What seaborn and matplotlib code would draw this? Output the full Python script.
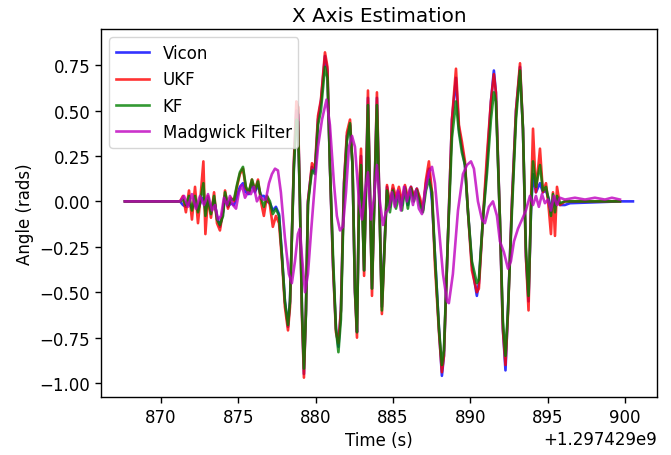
import numpy as np
import pandas as pd
import matplotlib
matplotlib.use("Agg")
import matplotlib.pyplot as plt
import seaborn as sns

OFFSET = 1.297429e9

# time (s, relative to OFFSET) for Vicon / UKF / KF
t_main = [867.68, 870.91, 871.24, 871.43, 871.62, 871.82, 872.01, 872.21, 872.40, 872.59,
          872.75, 872.88, 873.05, 873.24, 873.44, 873.63, 873.82, 874.02, 874.15, 874.34,
          874.53, 874.73, 874.92, 875.11, 875.31, 875.50, 875.69, 875.89, 876.08, 876.28,
          876.47, 876.66, 876.86, 877.05, 877.24, 877.44, 877.64, 877.83, 878.02, 878.22,
          878.35, 878.47, 878.60, 878.76, 878.86, 878.99, 879.12, 879.25, 879.38, 879.51,
          879.64, 879.77, 879.96, 880.16, 880.35, 880.61, 880.77, 880.93, 881.13, 881.32,
          881.48, 881.64, 881.84, 882.03, 882.23, 882.39, 882.55, 882.68, 882.81, 882.94,
          883.14, 883.39, 883.65, 883.97, 884.29, 884.62, 884.81, 885.00, 885.20, 885.39,
          885.59, 885.78, 885.97, 886.17, 886.36, 886.55, 886.75, 886.94, 887.14, 887.33,
          887.53, 887.72, 887.98, 888.17, 888.30, 888.56, 888.82, 889.08, 889.27, 889.46,
          889.66, 889.85, 890.11, 890.43, 890.56, 890.82, 891.08, 891.34, 891.53, 891.66,
          891.92, 892.11, 892.28, 892.44, 892.70, 892.96, 893.22, 893.41, 893.60, 893.77,
          893.93, 894.06, 894.25, 894.51, 894.70, 894.90, 895.09, 895.22, 895.35, 895.48,
          895.61, 895.80, 896.12, 896.45, 899.68]

vicon = [0.0, 0.0, 0.0, -0.02, -0.03, -0.01, -0.04, -0.01, -0.05, 0.0,
         0.02, -0.05, 0.0, -0.05, 0.01, -0.08, -0.14, -0.06, 0.03, -0.03,
         -0.01, -0.02, 0.03, 0.08, 0.10, 0.05, 0.04, 0.10, 0.05, 0.09,
         0.03, 0.03, 0.0, -0.01, -0.05, -0.03, -0.07, -0.30, -0.55, -0.69,
         -0.55, -0.20, 0.20, 0.50, 0.48, 0.0, -0.60, -0.95, -0.60, 0.0,
         0.10, 0.19, 0.16, 0.45, 0.55, 0.80, 0.72, 0.20, -0.35, -0.70,
         -0.80, -0.60, 0.10, 0.36, 0.42, 0.20, -0.50, -0.72, 0.0, 0.25,
         -0.38, 0.57, -0.48, 0.57, -0.58, 0.08, -0.03, 0.07, 0.0, 0.05,
         -0.02, 0.08, -0.02, 0.08, 0.02, 0.07, 0.0, -0.05, 0.10, 0.18,
         0.0, -0.30, -0.70, -0.96, -0.85, -0.20, 0.45, 0.68, 0.40, 0.30,
         0.20, -0.05, -0.35, -0.52, -0.45, -0.10, 0.20, 0.55, 0.72, 0.60,
         -0.10, -0.70, -0.93, -0.60, 0.0, 0.50, 0.74, 0.40, -0.30, -0.55,
         -0.05, 0.15, 0.05, 0.10, 0.05, 0.06, 0.01, -0.06, 0.0, -0.02,
         0.01, -0.02, -0.02, -0.01, 0.0]

ukf = [0.0, 0.0, 0.0, 0.03, -0.06, 0.06, -0.10, 0.08, -0.12, 0.05,
       0.22, -0.18, 0.03, -0.09, 0.05, -0.12, -0.16, -0.05, 0.06, -0.04,
       0.02, 0.0, 0.08, 0.15, 0.18, 0.07, 0.05, 0.12, 0.06, 0.12,
       0.0, -0.08, 0.03, -0.02, -0.14, -0.08, -0.12, -0.32, -0.58, -0.71,
       -0.58, -0.20, 0.22, 0.55, 0.52, 0.0, -0.62, -0.97, -0.60, 0.0,
       0.10, 0.21, 0.18, 0.47, 0.56, 0.82, 0.74, 0.20, -0.35, -0.72,
       -0.78, -0.60, 0.10, 0.38, 0.45, 0.20, -0.50, -0.75, 0.05, 0.29,
       -0.41, 0.61, -0.52, 0.60, -0.62, 0.09, -0.02, 0.09, 0.02, 0.08,
       0.0, 0.09, 0.02, 0.08, 0.03, 0.07, 0.02, -0.05, 0.12, 0.22,
       0.05, -0.35, -0.72, -0.94, -0.85, -0.20, 0.45, 0.73, 0.42, 0.33,
       0.22, -0.05, -0.38, -0.50, -0.48, -0.10, 0.25, 0.55, 0.70, 0.60,
       -0.10, -0.70, -0.90, -0.62, 0.0, 0.50, 0.76, 0.40, -0.30, -0.60,
       0.0, 0.40, 0.05, 0.29, 0.05, 0.10, -0.05, -0.18, 0.05, -0.19,
       0.08, -0.02, 0.0, 0.0, 0.0]

kf = [0.0, 0.0, 0.0, 0.01, -0.02, 0.03, -0.05, 0.03, -0.06, 0.02,
      0.10, -0.08, 0.02, -0.07, 0.03, -0.10, -0.13, -0.08, 0.05, -0.02,
      0.01, 0.01, 0.09, 0.16, 0.19, 0.08, 0.05, 0.12, 0.06, 0.11,
      0.02, -0.03, 0.03, 0.0, -0.07, -0.04, -0.08, -0.30, -0.55, -0.68,
      -0.55, -0.20, 0.18, 0.45, 0.44, 0.0, -0.58, -0.92, -0.62, -0.02,
      0.08, 0.17, 0.15, 0.42, 0.50, 0.74, 0.68, 0.20, -0.30, -0.70,
      -0.83, -0.65, 0.05, 0.33, 0.43, 0.20, -0.48, -0.72, -0.02, 0.20,
      -0.38, 0.53, -0.48, 0.53, -0.60, 0.06, -0.06, 0.06, -0.04, 0.03,
      -0.05, 0.07, -0.04, 0.07, 0.0, 0.06, -0.02, -0.06, 0.06, 0.12,
      0.05, -0.30, -0.70, -0.90, -0.82, -0.20, 0.35, 0.55, 0.38, 0.27,
      0.20, -0.05, -0.33, -0.45, -0.43, -0.10, 0.15, 0.45, 0.60, 0.55,
      -0.10, -0.65, -0.85, -0.60, -0.05, 0.45, 0.72, 0.40, -0.25, -0.52,
      -0.05, 0.22, 0.08, 0.20, 0.06, 0.08, 0.0, -0.08, 0.04, -0.06,
      0.03, -0.01, 0.0, 0.0, 0.0]

# Vicon runs a little longer than the filters
vicon_tail_t = [900.52]
vicon_tail = [0.0]

# Madgwick filter
t_madg = [867.68, 871.24, 871.50, 871.75, 872.01, 872.27, 872.53, 872.79, 873.05, 873.31,
          873.50, 873.69, 873.89, 874.08, 874.28, 874.47, 874.66, 874.86, 875.05, 875.24,
          875.44, 875.63, 875.82, 876.02, 876.21, 876.41, 876.60, 876.79, 876.99, 877.18,
          877.38, 877.57, 877.76, 878.02, 878.28, 878.47, 878.67, 878.86, 878.99, 879.12,
          879.32, 879.51, 879.70, 879.96, 880.16, 880.42, 880.71, 880.93, 881.19, 881.38,
          881.58, 881.77, 881.97, 882.16, 882.36, 882.55, 882.81, 883.00, 883.20, 883.39,
          883.58, 883.78, 883.97, 884.16, 884.36, 884.55, 884.75, 884.94, 885.13, 885.33,
          885.52, 885.72, 885.91, 886.10, 886.30, 886.49, 886.68, 886.88, 887.07, 887.33,
          887.53, 887.72, 887.98, 888.24, 888.50, 888.62, 888.88, 889.21, 889.53, 889.79,
          890.05, 890.24, 890.50, 890.76, 890.95, 891.21, 891.47, 891.73, 891.92, 892.18,
          892.44, 892.63, 892.83, 893.09, 893.35, 893.60, 893.86, 894.06, 894.25, 894.44,
          894.64, 894.83, 895.03, 895.22, 895.41, 895.61, 895.80, 896.12, 896.77, 897.42,
          898.06, 898.71, 899.16, 899.68]
madgwick = [0.0, 0.0, 0.03, -0.03, 0.04, -0.04, 0.03, -0.02, 0.04, -0.05,
            -0.02, -0.10, -0.08, 0.02, -0.02, 0.03, -0.02, -0.04, 0.05, 0.09,
            0.02, 0.05, 0.04, 0.08, 0.0, 0.03, 0.01, 0.01, 0.10, 0.15,
            0.18, 0.17, 0.05, -0.20, -0.40, -0.45, -0.33, -0.18, -0.15, -0.30,
            -0.50, -0.40, -0.18, 0.10, 0.30, 0.45, 0.56, 0.42, 0.10, -0.08,
            -0.16, -0.14, 0.05, 0.30, 0.36, 0.30, 0.0, -0.10, 0.05, 0.16,
            -0.10, 0.02, 0.20, 0.0, -0.13, -0.06, -0.04, 0.05, -0.03, 0.06,
            -0.05, 0.08, 0.0, 0.07, -0.02, 0.06, -0.04, -0.07, 0.05, 0.16,
            0.19, 0.10, -0.15, -0.40, -0.55, -0.56, -0.40, -0.05, 0.15, 0.20,
            0.22, 0.18, 0.0, -0.10, -0.12, -0.03, 0.0, -0.08, -0.22, -0.28,
            -0.37, -0.33, -0.22, -0.15, -0.10, -0.05, 0.03, -0.02, 0.03, -0.03,
            0.04, -0.01, 0.01, -0.05, 0.03, -0.02, 0.02, 0.01, 0.02, 0.01,
            0.02, 0.01, 0.02, 0.01]

plt.rcParams.update({
    "font.size": 12,
    "axes.titlesize": 14.4,
    "axes.labelsize": 12,
    "xtick.labelsize": 12,
    "ytick.labelsize": 12,
    "legend.fontsize": 12,
    "xtick.major.size": 4.2,
    "ytick.major.size": 4.2,
    "xtick.major.width": 1.0,
    "ytick.major.width": 1.0,
    "axes.linewidth": 1.0,
})

fig = plt.figure(figsize=(6.71, 4.56), dpi=100)
ax = fig.add_axes([0.1505, 0.127, 0.8285, 0.807])

df_v = pd.DataFrame({"t": np.array(t_main + vicon_tail_t) + OFFSET, "y": vicon + vicon_tail})
df_u = pd.DataFrame({"t": np.array(t_main) + OFFSET, "y": ukf})
df_k = pd.DataFrame({"t": np.array(t_main) + OFFSET, "y": kf})
df_m = pd.DataFrame({"t": np.array(t_madg) + OFFSET, "y": madgwick})

LW = 1.9
sns.lineplot(data=df_v, x="t", y="y", color="b", alpha=0.8, lw=LW, label="Vicon", ax=ax, estimator=None)
sns.lineplot(data=df_u, x="t", y="y", color="r", alpha=0.8, lw=LW, label="UKF", ax=ax, estimator=None)
sns.lineplot(data=df_k, x="t", y="y", color="g", alpha=0.8, lw=LW, label="KF", ax=ax, estimator=None)
sns.lineplot(data=df_m, x="t", y="y", color="m", alpha=0.8, lw=LW, label="Madgwick Filter", ax=ax, estimator=None)

ax.set_xlim(866.13 + OFFSET, 902.07 + OFFSET)
ax.set_ylim(-1.077, 0.948)
ax.set_xticks([OFFSET + v for v in [870, 875, 880, 885, 890, 895, 900]])
ax.set_title("X Axis Estimation")
ax.set_xlabel("Time (s)")
ax.set_ylabel("Angle (rads)")
ax.legend(loc="upper left")

fig.savefig("out.png", dpi=100)
